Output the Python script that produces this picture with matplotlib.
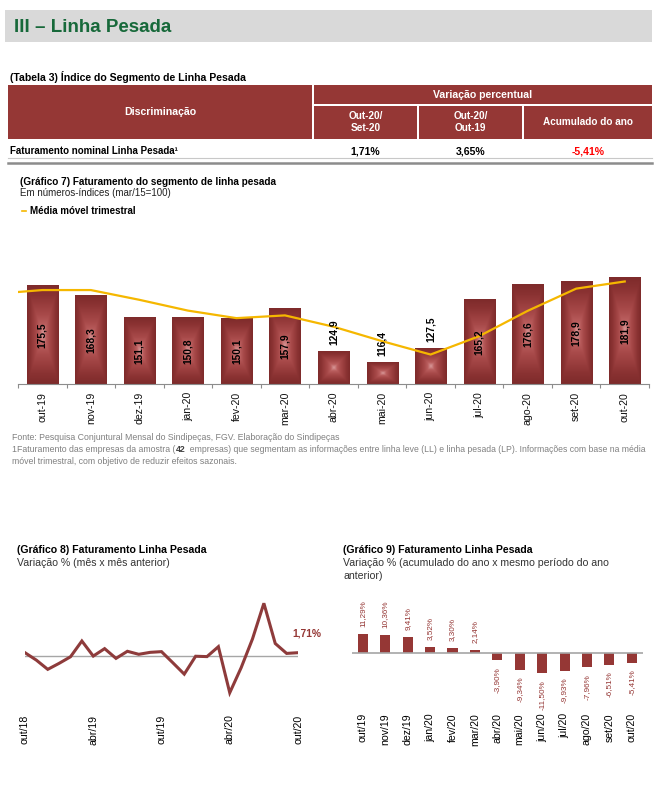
import matplotlib
matplotlib.use("Agg")
import matplotlib.pyplot as plt
import numpy as np
from matplotlib import font_manager
from matplotlib.colors import LinearSegmentedColormap
from matplotlib.patches import Rectangle

W, H = 663, 789

names = {f.name for f in font_manager.fontManager.ttflist}
SANS = "Liberation Sans" if "Liberation Sans" in names else "DejaVu Sans"
NARROW = "Liberation Sans Narrow" if "Liberation Sans Narrow" in names else SANS
plt.rcParams["font.family"] = [SANS, "DejaVu Sans"]

RED = "#953735"
GREEN = "#17693A"
GREY_TXT = "#808080"

# --- data ---
tab_cols = ["Out-20/\nSet-20", "Out-20/\nOut-19", "Acumulado do ano"]
tab_vals = ["1,71%", "3,65%", "-5,41%"]

g7_months = ["out-19", "nov-19", "dez-19", "jan-20", "fev-20", "mar-20", "abr-20",
             "mai-20", "jun-20", "jul-20", "ago-20", "set-20", "out-20"]
g7_index = [175.5, 168.3, 151.1, 150.8, 150.1, 157.9, 124.9, 116.4, 127.5, 165.2, 176.6, 178.9, 181.9]
g7_mm3_edge = 171.0
g7_mm3 = [172.5, 172.5, 165.0, 156.7, 150.9, 153.0, 144.3, 133.2, 122.9, 137.0, 156.5, 173.6, 179.1]

g8_ticks = ["out/18", "abr/19", "out/19", "abr/20", "out/20"]
g8_var = [1.7, -2.5, -7.7, -4.3, -0.6, 8.3, -0.2, 4.0, -1.5, 2.5, 0.8, 1.9, 2.3,
          -4.0, -10.4, -0.3, -0.5, 5.1, -20.9, -6.8, 9.5, 29.6, 6.9, 1.3, 1.71]

g9_months = ["out/19", "nov/19", "dez/19", "jan/20", "fev/20", "mar/20", "abr/20",
             "mai/20", "jun/20", "jul/20", "ago/20", "set/20", "out/20"]
g9_acum = [11.29, 10.36, 9.41, 3.52, 3.30, 2.14, -3.90, -9.34, -11.50, -9.93, -7.96, -6.51, -5.41]


def box(l, t, r, b):
    return [l / W, 1 - b / H, (r - l) / W, (b - t) / H]


def pct(v):
    return ("%.2f%%" % v).replace(".", ",")


fig = plt.figure(figsize=(W / 100, H / 100), dpi=100)
page = fig.add_axes([0, 0, 1, 1])
page.set_xlim(0, W)
page.set_ylim(H, 0)
page.axis("off")

# title band
page.add_patch(Rectangle((5, 10), 647, 32, color="#D9D9D9", lw=0))
page.text(14, 27, "III – Linha Pesada", fontsize=13.5, fontweight="bold", color=GREEN,
          family=NARROW, va="center")

# table 3
page.text(10, 77, "(Tabela 3) Índice do Segmento de Linha Pesada", fontsize=7.6,
          fontweight="bold", va="center")
page.add_patch(Rectangle((8, 85), 304, 54, color=RED, lw=0))
page.add_patch(Rectangle((314, 85), 338, 19, color=RED, lw=0))
page.text(160, 112, "Discriminação", fontsize=7.6, fontweight="bold", color="white",
          ha="center", va="center")
page.text(483, 95, "Variação percentual", fontsize=7.6, fontweight="bold", color="white",
          ha="center", va="center")
col_l = [314, 419, 524]
col_r = [417, 522, 652]
for i, lab in enumerate(tab_cols):
    page.add_patch(Rectangle((col_l[i], 106), col_r[i] - col_l[i], 33, color=RED, lw=0))
    cx = (col_l[i] + col_r[i]) / 2
    page.text(cx, 122, lab, fontsize=7.2, fontweight="bold", color="white",
              ha="center", va="center", linespacing=1.3)
    page.text(cx, 151, tab_vals[i], fontsize=7.6, fontweight="bold",
              color="#FF0000" if tab_vals[i].startswith("-") else "black",
              ha="center", va="center")
page.text(10, 151, "Faturamento nominal Linha Pesada¹", fontsize=7.0, fontweight="bold",
          va="center")
page.plot([8, 652], [157.5, 157.5], color="#C8C8C8", lw=0.8)
page.plot([8, 652], [163, 163], color="#8C8C8C", lw=1.8)

# grafico 7 header
page.text(20, 182, "(Gráfico 7) Faturamento do segmento de linha pesada", fontsize=7.2,
          fontweight="bold", family=NARROW, va="center")
page.text(20, 193, "Em números-índices (mar/15=100)", fontsize=7.0, family=NARROW,
          va="center", color="#222222")
page.plot([22, 26], [211, 211], color="#F5B700", lw=1.2)
page.text(30, 211, "Média móvel trimestral", fontsize=7.0, fontweight="bold",
          family=NARROW, va="center")

ax7 = fig.add_axes(box(18, 230, 649, 384.3))
x7 = np.arange(len(g7_months))
bars = ax7.bar(x7, np.array(g7_index) - 100, bottom=100, width=0.64, color=RED, zorder=2)
bar_cmap = LinearSegmentedColormap.from_list(
    "g7", ["#D99A9A", "#BA5E5E", "#A84A4A", "#9A3E3E", "#8A3232", "#7E2B2B"])
u = np.linspace(-1, 1, 80)
grid = np.maximum(np.abs(u)[None, :], np.abs(u)[:, None])
for b in bars:
    x0, y0 = b.get_x(), b.get_y()
    ax7.imshow(grid, extent=(x0, x0 + b.get_width(), y0, y0 + b.get_height()),
               cmap=bar_cmap, vmin=0, vmax=1, aspect="auto", zorder=2,
               interpolation="bilinear")
ax7.plot(np.r_[-0.5, x7], [g7_mm3_edge] + g7_mm3, color="#F5B700", lw=1.6, zorder=4)
for i, v in enumerate(g7_index):
    if v < 130:
        ax7.annotate(("%.1f" % v).replace(".", ","), (i, v), xytext=(0, 5),
                     textcoords="offset points", rotation=90, ha="center", va="bottom",
                     fontsize=7.4, fontweight="bold", zorder=5)
    else:
        ax7.text(i, (100 + v) / 2, ("%.1f" % v).replace(".", ","), rotation=90,
                 ha="center", va="center", fontsize=7.4, fontweight="bold", zorder=5)
ax7.set_xlim(-0.5, len(g7_months) - 0.5)
ax7.set_ylim(100, 218.7)
ax7.set_xticks(x7)
ax7.set_xticklabels(g7_months, rotation=90, fontsize=7.6, va="top", color="#111111")
ax7.set_xticks(np.arange(-0.5, len(g7_months)), minor=True)
ax7.tick_params(axis="x", which="major", length=0, pad=5.5)
ax7.tick_params(axis="x", which="minor", length=3, color="#8C8C8C", width=0.8)
ax7.set_yticks([])
for s in ["top", "left", "right"]:
    ax7.spines[s].set_visible(False)
ax7.spines["bottom"].set_color("#8C8C8C")
ax7.spines["bottom"].set_linewidth(0.8)
ax7.patch.set_alpha(0)

# footnotes
page.text(12, 437, "Fonte: Pesquisa Conjuntural Mensal do Sindipeças, FGV. Elaboração do Sindipeças",
          fontsize=6.3, family=NARROW, color=GREY_TXT, va="center")
renderer = fig.canvas.get_renderer()
t1 = page.text(12, 449, "1Faturamento das empresas da amostra (", fontsize=6.3,
               family=NARROW, color=GREY_TXT, va="center")
x_next = t1.get_window_extent(renderer).x1
t2 = page.text(x_next, 449, "42", fontsize=6.3, family=NARROW, color="#404040",
               fontweight="bold", va="center")
x_next = t2.get_window_extent(renderer).x1
page.text(x_next, 449, "  empresas) que segmentam as informações entre linha leve (LL) e linha pesada (LP). "
          "Informações com base na média", fontsize=6.2, family=NARROW, color=GREY_TXT, va="center")
page.text(12, 461, "móvel trimestral, com objetivo de reduzir efeitos sazonais.", fontsize=6.3,
          family=NARROW, color=GREY_TXT, va="center")

# grafico 8
page.text(17, 550, "(Gráfico 8) Faturamento Linha Pesada", fontsize=7.6, fontweight="bold",
          va="center")
page.text(17, 563, "Variação % (mês x mês anterior)", fontsize=7.6, va="center", color="#333333")
ax8 = fig.add_axes(box(25, 590, 298, 700))
x8 = np.arange(len(g8_var))
ax8.axhline(0, color="#A6A6A6", lw=1.0, zorder=1)
ax8.plot(x8, g8_var, color="#8E3B3B", lw=2.2, zorder=2, solid_joinstyle="miter")
ax8.annotate(pct(g8_var[-1]), (x8[-1], g8_var[-1]), xytext=(-4, 14), textcoords="offset points",
             ha="left", va="center", fontsize=7.4, fontweight="bold", color=RED)
ax8.set_xlim(0, len(g8_var) - 1)
ax8.set_ylim(-25, 37.1)
ax8.set_xticks(x8[::6])
ax8.set_xticklabels(g8_ticks, rotation=90, fontsize=7.6, va="top")
ax8.tick_params(axis="x", length=0, pad=10.5)
ax8.set_yticks([])
for s in ax8.spines.values():
    s.set_visible(False)
ax8.patch.set_alpha(0)

# grafico 9
page.text(343, 550, "(Gráfico 9) Faturamento Linha Pesada", fontsize=7.6, fontweight="bold",
          va="center")
page.text(343, 563, "Variação % (acumulado do ano x mesmo período do ano", fontsize=7.6,
          va="center", color="#333333")
page.text(343, 576, "anterior)", fontsize=7.6, va="center", color="#333333")
ax9 = fig.add_axes(box(351.7, 590, 643, 700))
x9 = np.arange(len(g9_months))
ax9.bar(x9, g9_acum, width=0.45, color=RED, zorder=2)
ax9.axhline(0, color="#A6A6A6", lw=1.2, zorder=3)
for i, v in enumerate(g9_acum):
    ax9.annotate(pct(v), (i, v), xytext=(0, 5 if v > 0 else -5), textcoords="offset points",
                 rotation=90, ha="center", va="bottom" if v > 0 else "top",
                 fontsize=5.9, color=RED)
ax9.set_xlim(-0.5, len(g9_months) - 0.5)
ax9.set_ylim(-26.7, 36.2)
ax9.set_xticks(x9)
ax9.set_xticklabels(g9_months, rotation=90, fontsize=7.6, va="top")
ax9.tick_params(axis="x", length=0, pad=9.4)
ax9.set_yticks([])
for s in ax9.spines.values():
    s.set_visible(False)
ax9.patch.set_alpha(0)

fig.savefig("out.png", dpi=100, facecolor="white")
